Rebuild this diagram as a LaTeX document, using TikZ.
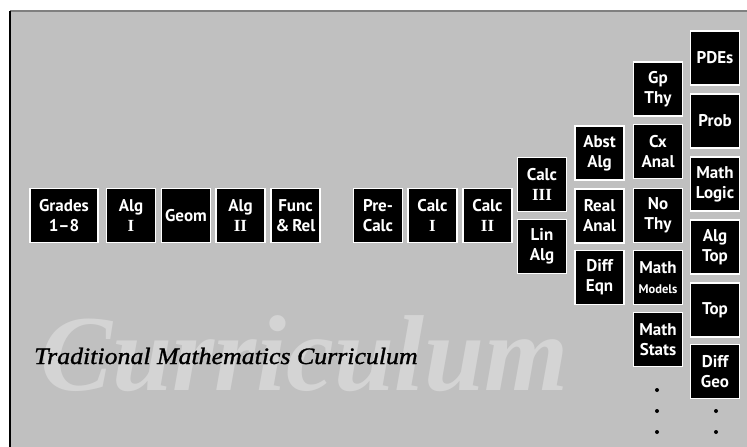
\documentclass[tikz,border=0pt]{standalone}
\usepackage{fontspec}
\usepackage{xcolor}
\usepackage{tikz}
\usetikzlibrary{positioning}
\newfontfamily\boxfont{PT Sans}
\newfontfamily\serifit{Liberation Serif}
\newfontfamily\titlefont{Liberation Serif}[FakeStretch=1.1, FakeBold=1.2]
\newcommand{\rnum}[1]{{\serifit\bfseries #1}}
\definecolor{cvgray}{RGB}{192,192,192}
\definecolor{cvrule}{RGB}{128,128,128}
\definecolor{cvwater}{RGB}{212,212,212}
\tikzset{
  course/.style={draw=white, line width=1.2pt, fill=black, text=white,
    minimum width=49pt, minimum height=54pt, inner sep=0pt, align=center,
    font=\boxfont\bfseries\fontsize{17}{20}\selectfont},
  more/.style={circle, fill=black, inner sep=0pt, minimum size=4pt}
}

\begin{document}
\begin{tikzpicture}[x=1pt, y=-1pt]
\useasboundingbox (0,0) rectangle (747,447);
% outer frame
\fill[white] (0,0) rectangle (747,447);
\fill[cvgray] (10,11) rectangle (747,447);
\draw[cvrule, line width=2pt] (10,11) -- (747,11);
\draw[black, line width=2pt] (10,11) -- (10,447);

% ---- watermark and title ----
\node[cvwater, font=\serifit\bfseries\itshape\fontsize{108}{108}\selectfont, anchor=base west,
  inner sep=0pt] (water) at (40,390) {Curriculum};
\node[black, font=\titlefont\itshape\fontsize{23.5}{26}\selectfont, anchor=base west,
  inner sep=0pt] (title) at (34,364) {Traditional Mathematics Curriculum};

% ---- school track ----
\node[course, minimum width=68pt] (grades) at (64,215.5) {Grades\\1\textendash8};
\node[course] (algI)    at (131,215.5)   {Alg\\\rnum{I}};
\node[course] (geom)    at (186,215.5)   {Geom};
\node[course] (algII)   at (240.5,215.5) {Alg\\\rnum{II}};
\node[course] (func)    at (295.5,215.5) {Func\\\&\,Rel};

% ---- calculus track ----
\node[course] (precalc) at (378,215.5)   {Pre-\\Calc};
\node[course] (calcI)   at (432.5,215.5) {Calc\\\rnum{I}};
\node[course] (calcII)  at (487.5,215.5) {Calc\\\rnum{II}};
\node[course] (calcIII) at (542,184.5)   {Calc\\\rnum{III}};
\node[course] (linalg)  at (542,246.5)   {Lin\\Alg};

% ---- upper division ----
\foreach \n/\y/\t in {abstalg/153/{Abst\\Alg}, realanal/216/{Real\\Anal},
                      diffeqn/277.5/{Diff\\Eqn}}{
  \node[course] (\n) at (599.5,\y) {\t};
}
\foreach \n/\y/\t in {gpthy/89/{Gp\\Thy}, cxanal/151.5/{Cx\\Anal},
                      nothy/215.5/{No\\Thy},
                      models/277.5/{Math\\{\fontsize{12.5}{14}\selectfont Models}},
                      stats/339.5/{Math\\Stats}}{
  \node[course] (\n) at (658,\y) {\t};
}
\foreach \n/\y/\t in {pdes/58/PDEs, prob/121/Prob, logic/184/{Math\\Logic},
                      algtop/247/{Alg\\Top}, top/310/Top, diffgeo/371.5/{Diff\\Geo}}{
  \node[course] (\n) at (715,\y) {\t};
}

% ---- and so on ----
\foreach \y [count=\i] in {390,411,432}{
  \node[more] (moreA\i) at (657,\y) {};
}
\foreach \y [count=\i] in {411,432}{
  \node[more] (moreB\i) at (716,\y) {};
}
\end{tikzpicture}
\end{document}
